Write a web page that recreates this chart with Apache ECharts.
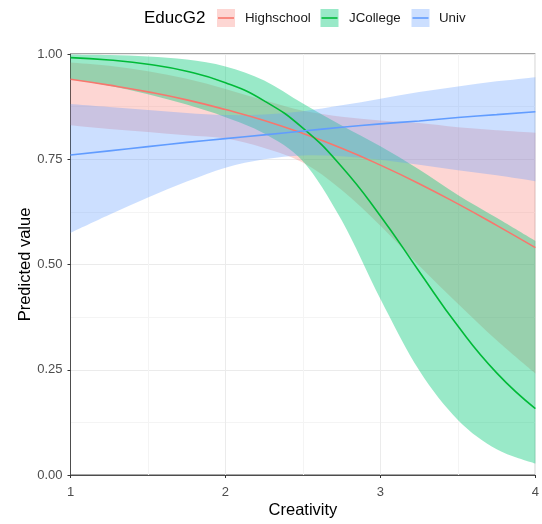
<!DOCTYPE html>
<html>
<head>
<meta charset="utf-8">
<script src="https://cdn.jsdelivr.net/npm/echarts@6/dist/echarts.min.js"></script>
<style>html,body{margin:0;padding:0;background:#fff}#c{width:542px;height:524px}</style>
</head>
<body>
<div id="c"></div>
<script>
const creativity = [1, 1.25, 1.5, 1.75, 2, 2.25, 2.5, 2.75, 3, 3.25, 3.5, 3.75, 4];
const groups = ['Highschool', 'JCollege', 'Univ'];
const hsFit  = [0.940, 0.926, 0.910, 0.891, 0.868, 0.842, 0.811, 0.776, 0.736, 0.692, 0.644, 0.593, 0.540];
const hsLow  = [0.831, 0.822, 0.815, 0.807, 0.799, 0.777, 0.742, 0.677, 0.592, 0.497, 0.407, 0.320, 0.241];
const hsHigh = [0.980, 0.972, 0.959, 0.941, 0.917, 0.890, 0.865, 0.851, 0.842, 0.836, 0.826, 0.819, 0.813];
const jcFit  = [0.9915, 0.9856, 0.9756, 0.9590, 0.9318, 0.8888, 0.8239, 0.7323, 0.6154, 0.4835, 0.3537, 0.2425, 0.1577];
const jcLow  = [0.9405, 0.9244, 0.9044, 0.8798, 0.8500, 0.8114, 0.7452, 0.6049, 0.4182, 0.2486, 0.1309, 0.0613, 0.0272];
const jcHigh = [0.9988, 0.9974, 0.9941, 0.9867, 0.9706, 0.9370, 0.8822, 0.8300, 0.7807, 0.7259, 0.6653, 0.6109, 0.5560];
const unFit  = [0.760, 0.770, 0.780, 0.790, 0.799, 0.808, 0.817, 0.826, 0.834, 0.841, 0.849, 0.856, 0.863];
const unLow  = [0.575, 0.618, 0.659, 0.697, 0.730, 0.750, 0.759, 0.757, 0.749, 0.737, 0.724, 0.712, 0.698];
const unHigh = [0.881, 0.874, 0.867, 0.860, 0.855, 0.856, 0.864, 0.878, 0.894, 0.910, 0.923, 0.935, 0.945];
const yTicks = [0, 0.25, 0.5, 0.75, 1];
const xTicks = [1, 2, 3, 4];

const lineColors = ['#F8766D', '#00BA38', '#619CFF'];
const bandColors = ['rgba(248,118,109,0.3)', 'rgba(0,199,118,0.4)', 'rgba(97,156,255,0.32)'];
const fits = [hsFit, jcFit, unFit];
const lows = [hsLow, jcLow, unLow];
const highs = [hsHigh, jcHigh, unHigh];

// smooth path (Catmull-Rom -> cubic Bezier) through pixel points
function smoothSegs(pts, first) {
  let d = first ? 'M' + pts[0][0] + ',' + pts[0][1] : 'L' + pts[0][0] + ',' + pts[0][1];
  for (let i = 0; i < pts.length - 1; i++) {
    const p0 = pts[Math.max(i - 1, 0)], p1 = pts[i], p2 = pts[i + 1], p3 = pts[Math.min(i + 2, pts.length - 1)];
    const c1 = [p1[0] + (p2[0] - p0[0]) / 6, p1[1] + (p2[1] - p0[1]) / 6];
    const c2 = [p2[0] - (p3[0] - p1[0]) / 6, p2[1] - (p3[1] - p1[1]) / 6];
    d += 'C' + c1[0] + ',' + c1[1] + ' ' + c2[0] + ',' + c2[1] + ' ' + p2[0] + ',' + p2[1];
  }
  return d;
}

const series = [];
groups.forEach((g, i) => {
  series.push({
    name: g + ' band', type: 'custom', silent: true, clip: true, z: 1,
    data: creativity.map((x, k) => [x, lows[i][k], highs[i][k]]),
    encode: { x: 0, y: [1, 2] },
    renderItem: function (params, api) {
      if (params.dataIndex !== 0) return null;
      const up = creativity.map((x, k) => api.coord([x, highs[i][k]]));
      const lo = creativity.map((x, k) => api.coord([x, lows[i][k]])).reverse();
      const d = smoothSegs(up, true) + smoothSegs(lo, false) + 'Z';
      return { type: 'path', shape: { pathData: d }, style: { fill: bandColors[i], stroke: null } };
    }
  });
});
groups.forEach((g, i) => {
  series.push({
    name: g, type: 'line', smooth: true, symbol: 'none', z: 3,
    lineStyle: { color: lineColors[i], width: 1.6 },
    data: creativity.map((x, k) => [x, fits[i][k]])
  });
});

// legend drawn as graphic elements
const legendItems = [];
const keyX = [217, 320.5, 411.5];
const labX = [245, 349, 439];
const FONT = '"Liberation Sans", Arial, sans-serif';
groups.forEach((g, i) => {
  legendItems.push({ type: 'rect', shape: { x: keyX[i], y: 9, width: 18, height: 18 }, style: { fill: bandColors[i] } });
  legendItems.push({ type: 'line', shape: { x1: keyX[i] + 1, y1: 18, x2: keyX[i] + 17, y2: 18 }, style: { stroke: lineColors[i], lineWidth: 1.6 } });
  legendItems.push({ type: 'text', x: labX[i], y: 18.5, style: { text: g, fill: '#1a1a1a', font: '13.3px ' + FONT, textVerticalAlign: 'middle' } });
});
legendItems.push({ type: 'text', x: 144, y: 18.5, style: { text: 'EducG2', fill: '#000', font: '17px ' + FONT, textVerticalAlign: 'middle' } });

const chart = echarts.init(document.getElementById('c'), null, { renderer: 'canvas' });
chart.setOption({
  animation: false,
  backgroundColor: '#fff',
  grid: { left: 70.5, right: 5, top: 54, bottom: 48, show: true, borderColor: '#4d4d4d', borderWidth: 1, backgroundColor: 'transparent' },
  xAxis: {
    type: 'value', min: 1, max: 4, interval: 1,
    name: 'Creativity', nameLocation: 'middle', nameGap: 27, nameMoveOverlap: false,
    nameTextStyle: { color: '#000', fontSize: 16.5, fontFamily: 'Liberation Sans' },
    axisLine: { show: true, onZero: false, lineStyle: { color: '#4d4d4d', width: 1 } },
    axisTick: { show: true, length: 3, lineStyle: { color: '#333' } },
    axisLabel: { color: '#4d4d4d', fontSize: 13, fontFamily: 'Liberation Sans', margin: 11,
      formatter: v => xTicks.includes(v) ? String(v) : '' },
    splitLine: { show: true, lineStyle: { color: '#ebebeb', width: 1 } },
    minorTick: { show: false, splitNumber: 2 },
    minorSplitLine: { show: true, lineStyle: { color: '#f4f4f4', width: 1 } }
  },
  yAxis: {
    type: 'value', min: 0, max: 1, interval: 0.25,
    name: 'Predicted value', nameLocation: 'middle', nameGap: 37, nameMoveOverlap: false,
    nameTextStyle: { color: '#000', fontSize: 16.5, fontFamily: 'Liberation Sans' },
    axisLine: { show: true, onZero: false, lineStyle: { color: '#4d4d4d', width: 1 } },
    axisTick: { show: true, length: 3, lineStyle: { color: '#333' } },
    axisLabel: { color: '#4d4d4d', fontSize: 13, fontFamily: 'Liberation Sans', margin: 8,
      formatter: v => yTicks.includes(v) ? v.toFixed(2) : '' },
    splitLine: { show: true, lineStyle: { color: '#ebebeb', width: 1 } },
    minorTick: { show: false, splitNumber: 2 },
    minorSplitLine: { show: true, lineStyle: { color: '#f4f4f4', width: 1 } }
  },
  graphic: legendItems,
  series: series
});
</script>
</body>
</html>
